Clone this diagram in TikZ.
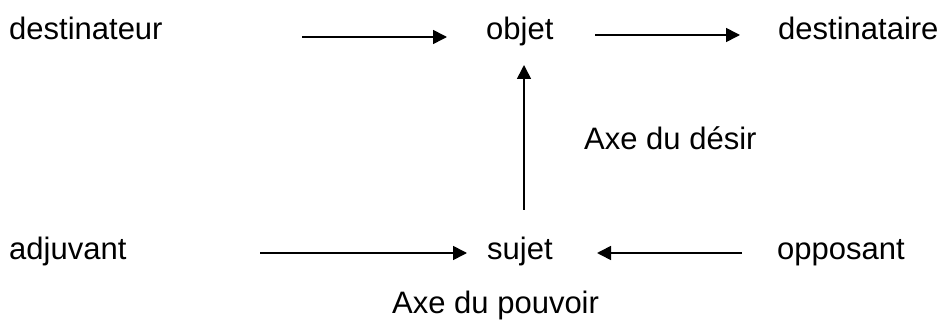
\documentclass[tikz,border=0pt]{standalone}
\usepackage{fontspec}
\setmainfont{Liberation Sans}
\usetikzlibrary{arrows.meta}
\begin{document}
\begin{tikzpicture}[x=1pt,y=-1pt,
  lbl/.style={anchor=base west, inner sep=0pt, font=\fontsize{31}{37}\selectfont},
  arr/.style={-{Triangle[length=14pt,width=14pt]}, line width=1.6pt}]
\useasboundingbox (0,0) rectangle (945,320);
\node[lbl] (dtr) at (9,40) {destinateur};
\node[lbl] (obj) at (486,40) {objet};
\node[lbl] (dta) at (778,40) {destinataire};
\node[lbl] (adj) at (9,260) {adjuvant};
\node[lbl] (suj) at (487,260) {sujet};
\node[lbl] (opp) at (777,260) {opposant};
\node[lbl] (axd) at (584,150) {Axe du désir};
\node[lbl] (axp) at (392,313) {Axe du pouvoir};
\coordinate (a1s) at (302,37);
\coordinate (a1e) at (447,37);
\coordinate (a2s) at (595,35);
\coordinate (a2e) at (740,35);
\coordinate (a3s) at (260,253);
\coordinate (a3e) at (467,253);
\coordinate (a4s) at (742,253);
\coordinate (a4e) at (597,253);
\coordinate (vs) at (524,210);
\coordinate (ve) at (524,65);
\draw[arr] (a1s) -- (a1e);
\draw[arr] (a2s) -- (a2e);
\draw[arr] (a3s) -- (a3e);
\draw[arr] (a4s) -- (a4e);
\draw[arr] (vs) -- (ve);
\end{tikzpicture}
\end{document}
